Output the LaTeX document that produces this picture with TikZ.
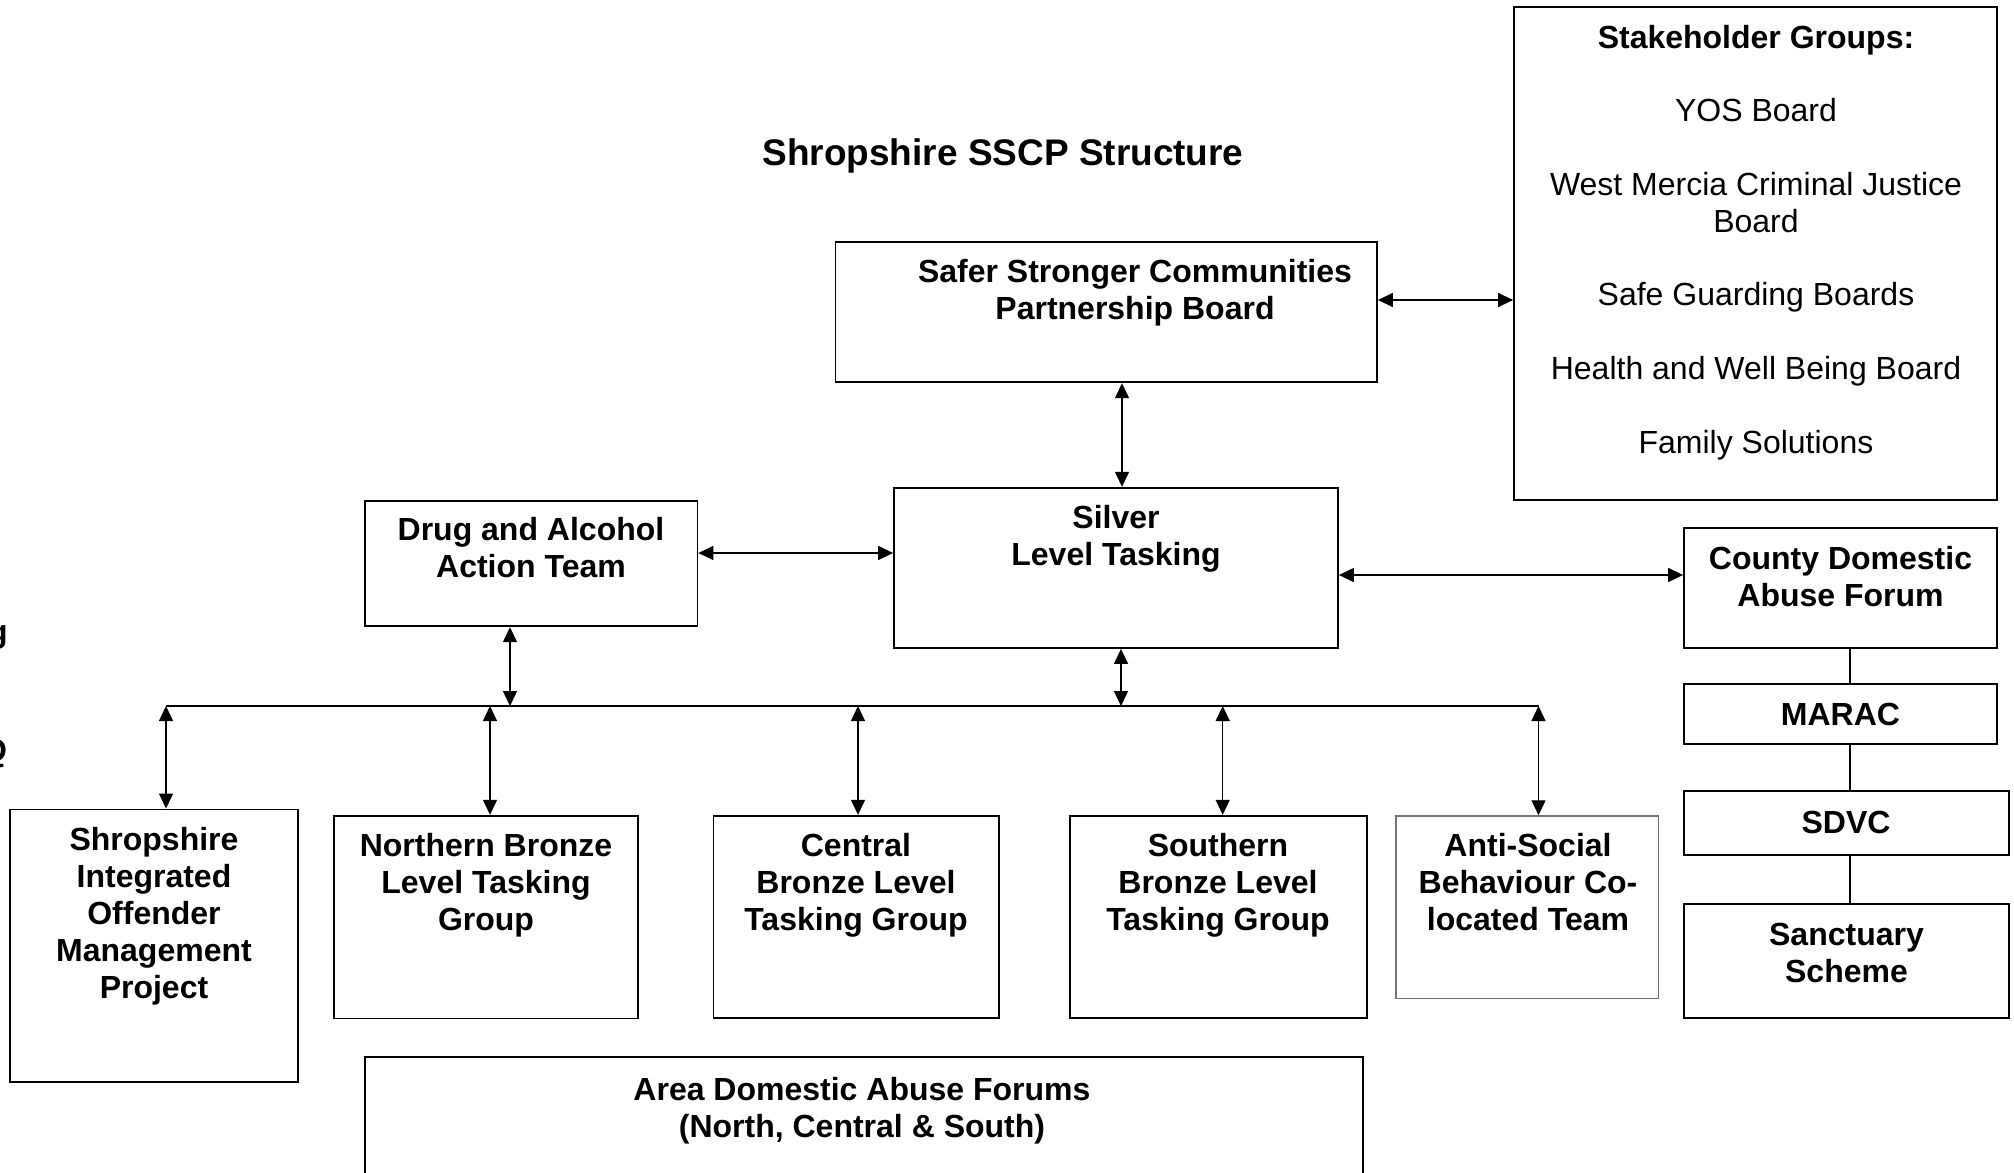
\documentclass[tikz,border=0pt]{standalone}
\usepackage{fontspec}
\setmainfont{Liberation Sans}
\usetikzlibrary{arrows.meta,fit}
\tikzset{
  box/.style={draw=black, line width=0.9pt, inner sep=0pt, rectangle},
  greybox/.style={box, draw=black!55, line width=0.75pt},
  lbl/.style={font=\bfseries\fontsize{16}{18.4}\selectfont, align=center, inner sep=0pt, anchor=base},
  plaintxt/.style={font=\fontsize{16}{18.4}\selectfont, align=center, inner sep=0pt, anchor=base},
  bi/.style={line width=0.7pt, {Triangle[length=7.5pt,width=7pt]}-{Triangle[length=7.5pt,width=7pt]}},
  link/.style={line width=0.7pt},
}
\begin{document}
\begin{tikzpicture}[x=0.5pt,y=-0.5pt]
\fill[white] (0,0) rectangle (2014,1173);
\useasboundingbox (0,0) rectangle (2014,1173);

% title
\node[font=\bfseries\fontsize{18.5}{22}\selectfont, inner sep=0pt, anchor=base] (title) at (1003,165) {Shropshire SSCP Structure};

% cut-off fragments at the left edge
\node[font=\bfseries\fontsize{16}{18.4}\selectfont, inner sep=0pt, anchor=base east] (fragg) at (8,642) {g};
\node[font=\bfseries\fontsize{16}{18.4}\selectfont, inner sep=0pt, anchor=base east] (fragq) at (7.5,761) {Q};

% boxes
\node[box, fit={(835.5,242.3) (1377,382.3)}] (sscp) {};
\node[box, fit={(1514,6.7) (1997,500)}] (stake) {};
\node[box, fit={(894,487.7) (1338,648)}] (silver) {};
\node[box, fit={(365,500.6) (697.4,626.3)}] (daat) {};
\node[box, fit={(1684,528) (1997,648)}] (cdaf) {};
\node[box, fit={(1684,684) (1997,744)}] (marac) {};
\node[box, fit={(1684,790.7) (2009,855)}] (sdvc) {};
\node[box, fit={(1684,904) (2009,1018)}] (sanct) {};
\node[box, fit={(10,809.4) (298,1082)}] (shrop) {};
\node[box, fit={(333.8,815.7) (638,1018.5)}] (north) {};
\node[box, fit={(713.5,815.7) (998.6,1018.3)}] (central) {};
\node[box, fit={(1069.8,815.7) (1366.9,1018.3)}] (south) {};
\node[greybox, fit={(1396.2,816) (1658.6,998.6)}] (asb) {};
\node[box, fit={(364.6,1057.3) (1363.3,1200)}] (area) {};

% texts (anchor = baseline of last line)
\node[lbl] (sscp-t) at (1135,319) {Safer Stronger Communities\\Partnership Board};
\node[plaintxt] (stake-t) at (1756,453) {\textbf{Stakeholder Groups:}\\[18.4pt]YOS Board\\[18.4pt]West Mercia Criminal Justice\\Board\\[18.4pt]Safe Guarding Boards\\[18.4pt]Health and Well Being Board\\[18.4pt]Family Solutions};
\node[lbl] (silver-t) at (1116,565) {Silver\\Level Tasking};
\node[lbl] (daat-t) at (531,577.5) {Drug and Alcohol\\Action Team};
\node[lbl] (cdaf-t) at (1840.5,606) {County Domestic\\Abuse Forum};
\node[lbl] (marac-t) at (1840.5,725) {MARAC};
\node[lbl] (sdvc-t) at (1846,833.5) {SDVC};
\node[lbl] (sanct-t) at (1846.5,982.5) {Sanctuary\\Scheme};
\node[lbl] (shrop-t) at (154,998) {Shropshire\\Integrated\\Offender\\Management\\Project};
\node[lbl] (north-t) at (486,930) {Northern Bronze\\Level Tasking\\Group};
\node[lbl] (central-t) at (856,930) {Central\\Bronze Level\\Tasking Group};
\node[lbl] (south-t) at (1218,930) {Southern\\Bronze Level\\Tasking Group};
\node[lbl] (asb-t) at (1528,930) {Anti-Social\\Behaviour Co-\\located Team};
\node[lbl] (area-t) at (862,1137) {Area Domestic Abuse Forums\\(North, Central \& South)};

% helper coordinates
\coordinate (ya) at (0,300);
\coordinate (yb) at (0,553);
\coordinate (yc) at (0,575);
\coordinate (xs) at (1122,0);
\coordinate (xm) at (1850,0);
\coordinate (b1) at (166,706);
\coordinate (bd) at (510,706);
\coordinate (b2) at (490,706);
\coordinate (b3) at (858,706);
\coordinate (bs) at (1121,706);
\coordinate (b4) at (1222.7,706);
\coordinate (b5) at (1538.5,706);

% connectors
\draw[bi] (sscp.east |- ya) -- (stake.west |- ya);
\draw[bi] (sscp.south -| xs) -- (silver.north -| xs);
\draw[bi] (daat.east |- yb) -- (silver.west |- yb);
\draw[bi] (silver.east |- yc) -- (cdaf.west |- yc);
\draw[link] (b1) -- (b5);
\draw[bi] (daat.south -| bd) -- (bd);
\draw[bi] (silver.south -| bs) -- (bs);
\draw[bi] (b1) -- (b1 |- shrop.north);
\draw[bi] (b2) -- (b2 |- north.north);
\draw[bi] (b3) -- (b3 |- central.north);
\draw[bi] (b4) -- (b4 |- south.north);
\draw[bi] (b5) -- (b5 |- asb.north);
\draw[link] (cdaf.south -| xm) -- (marac.north -| xm);
\draw[link] (marac.south -| xm) -- (sdvc.north -| xm);
\draw[link] (sdvc.south -| xm) -- (sanct.north -| xm);
\end{tikzpicture}
\end{document}
